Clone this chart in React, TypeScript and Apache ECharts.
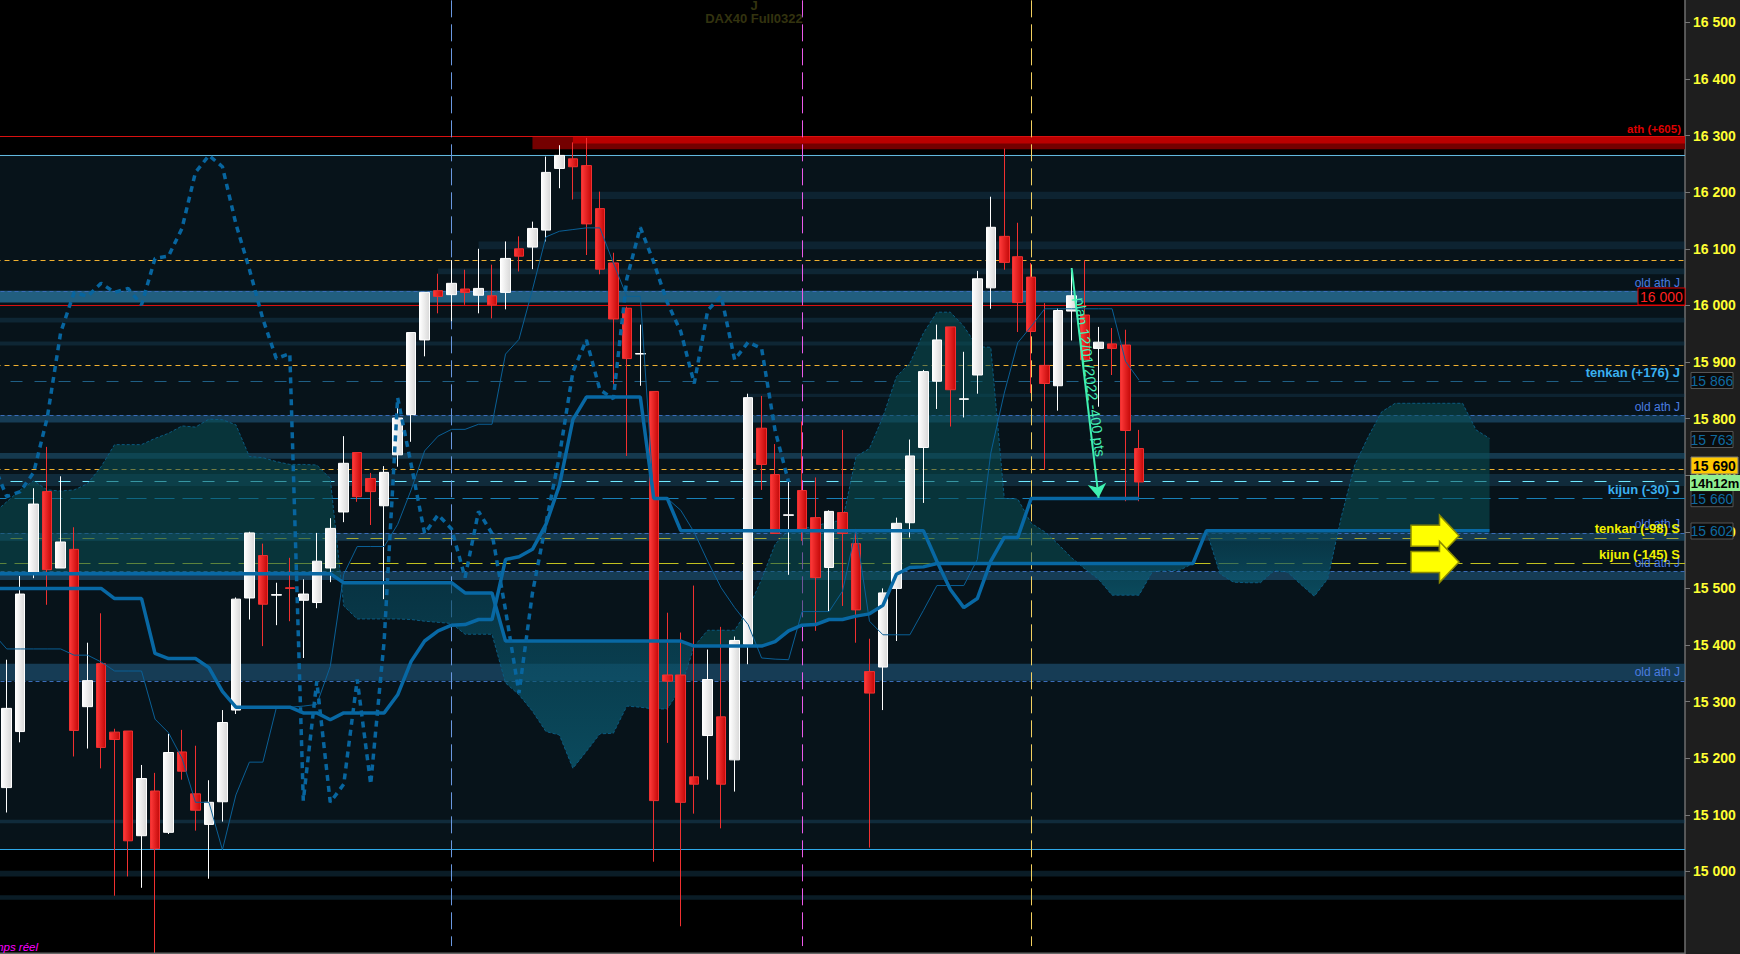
import React, { useEffect, useRef } from "react";
import * as echarts from "echarts";

const opens = [15148,15247,15528,15671,15536,15569,15291,15367,15246,15248,15063,15142,15069,15211,15137,15083,15123,15285,15483,15558,15488,15501,15479,15475,15536,15635,15740,15694,15646,15736,15807,15939,16026,16019,16029,16018,16017,16023,16100,16103,16133,16242,16259,16247,16171,16075,15995,15914,15848,15347,15347,15167,15240,15273,15197,15401,15783,15701,15629,15673,15625,15537,15634,15579,15353,15361,15500,15616,15749,15866,15962,15834,15877,16031,16122,16086,16050,15894,15858,15990,15983,15924,15932,15930,15747];
const closes = [15288,15490,15649,15533,15582,15249,15337,15219,15233,15054,15164,15040,15210,15177,15108,15122,15263,15481,15598,15472,15489,15500,15490,15548,15606,15721,15662,15671,15705,15801,15952,16023,16016,16039,16023,16030,16001,16083,16087,16136,16235,16265,16245,16144,16064,15976,15906,15915,15125,15336,15122,15154,15339,15154,15408,15837,15719,15597,15630,15605,15519,15636,15597,15462,15315,15492,15615,15734,15883,15939,15851,15835,16047,16138,16076,16005,15954,15862,15991,16017,15904,15935,15924,15779,15688];
const highs = [15374,15522,15677,15750,15698,15608,15404,15456,15252,15248,15188,15174,15243,15250,15222,15161,15285,15484,15600,15579,15510,15554,15516,15598,15624,15769,15740,15704,15716,15822,15952,16023,16056,16080,16063,16100,16072,16113,16122,16148,16263,16283,16288,16296,16201,16093,15998,15966,15848,15457,15422,15505,15392,15432,15415,15844,15840,15755,15688,15795,15696,15638,15780,15605,15411,15500,15625,15763,15886,15966,15962,15918,16061,16192,16277,16146,16075,16004,15995,16066,16080,15962,15960,15957,15780];
const lows = [15104,15228,15518,15471,15536,15203,15217,15182,14957,14991,14971,14852,15066,15162,15072,14987,15088,15278,15445,15398,15435,15442,15377,15465,15511,15617,15653,15612,15481,15715,15759,15910,15986,15972,16001,15986,15977,15993,16060,16064,16113,16207,16187,16089,16055,15860,15734,15858,15017,15227,14903,15102,15162,15076,15141,15366,15674,15597,15524,15584,15425,15459,15469,15404,15042,15285,15407,15590,15651,15817,15786,15802,15844,15994,16063,15953,15845,15710,15814,15938,15904,15821,15877,15654,15654];

// The first entry of each indicator lies just left of the visible window.
const kijunJ = [15500,15500,15500,15500,15500,15500,15500,15500,15500,15482,15482,15482,15385,15376,15376,15376,15360,15318,15290,15290,15290,15290,15290,15280,15280,15268,15280,15280,15280,15280,15312,15371,15407,15425,15435,15436,15445,15445,15551,15556,15569,15613,15682,15798,15838,15838,15838,15838,15838,15659,15659,15602,15602,15602,15602,15602,15602,15602,15602,15602,15602,15602,15602,15602,15602,15602,15602,15602,15602,15602,15548,15498,15466,15482,15548,15590,15590,15659,15659,15659,15659,15659,15659,15659,15659,15659];
const tenkanJ = [15420,15393,15393,15393,15393,15393,15382,15382,15370,15354,15354,15354,15269,15245,15200,15122,15122,15038,15135,15193,15193,15289,15290,15292,15295,15362,15525,15574,15574,15574,15613,15674,15743,15769,15781,15781,15790,15790,15914,15940,16028,16121,16131,16134,16137,16137,16075,16016,16016,15659,15659,15638,15599,15548,15501,15466,15436,15377,15375,15374,15459,15459,15459,15495,15604,15442,15418,15418,15418,15461,15505,15505,15505,15551,15739,15845,15934,15963,15994,15994,15994,15994,15994,15994,15901,15868];
const chikou = [15720,15662,15671,15705,15801,15952,16023,16016,16039,16023,16030,16001,16083,16087,16136,16235,16265,16245,16144,16064,15976,15906,15915,15125,15336,15122,15154,15339,15154,15408,15837,15719,15597,15630,15605,15519,15636,15597,15462,15315,15492,15615,15734,15883,15939,15851,15835,16047,16138,16076,16005,15954,15862,15991,16017,15904,15935,15924,15779,15688];
const senkouA = [15632,15653,15674,15690,15674,15672,15674,15685,15715,15754,15754,15754,15765,15774,15787,15785,15799,15798,15789,15733,15731,15724,15719,15719,15718,15694,15469,15446,15446,15446,15446,15445,15442,15440,15438,15419,15419,15419,15333,15312,15283,15247,15241,15182,15212,15243,15244,15292,15290,15287,15287,15324,15398,15426,15426,15426,15463,15516,15578,15602,15606,15609,15618,15619,15733,15747,15803,15874,15898,15951,15988,15988,15963,15927,15926,15659,15658,15615,15600,15578,15554,15534,15516,15488,15488,15488,15530,15531,15532,15544,15602,15526,15511,15510,15510,15531,15529,15507,15486,15517,15626,15718,15768,15812,15827,15827,15827,15827,15827,15827,15780,15765];
const senkouB = [15526,15526,15526,15526,15526,15526,15526,15526,15526,15526,15526,15526,15526,15526,15526,15526,15526,15526,15526,15526,15526,15526,15526,15526,15526,15526,15510,15510,15510,15510,15510,15510,15510,15510,15510,15492,15492,15492,15407,15407,15407,15407,15407,15407,15407,15407,15407,15407,15407,15407,15407,15407,15398,15398,15398,15398,15398,15398,15406,15425,15435,15436,15445,15445,15451,15455,15470,15525,15537,15538,15544,15544,15544,15544,15544,15544,15544,15544,15544,15544,15544,15544,15544,15544,15544,15544,15544,15544,15544,15544,15602,15602,15602,15602,15602,15602,15602,15602,15602,15602,15602,15602,15602,15602,15602,15602,15602,15602,15602,15602,15602,15602];

const categories = Array.from({ length: 126 }, (_, i) => String(i));
const tickValues = [15000,15100,15200,15300,15400,15500,15600,15700,15800,15900,16000,16100,16200,16300,16400,16500];

const zoneTops = [16298,16298,16201,16113,16065,16026,15978,15936,15844,15806,15739,15702,15598,15530,15367,15091,15001,14958];
const zoneBottoms = [16276,16286,16188,16099,16055,16005,15970,15929,15838,15793,15729,15681,15584,15515,15337,15085,14991,14950];
const zoneStarts = [40,43,43,36,33,0,0,0,56,0,0,0,0,0,0,0,0,0];
const zoneTints = ["#740000","#bb0000","rgba(30,80,110,.28)","rgba(30,80,110,.28)","rgba(30,80,110,.32)","rgba(45,130,175,.68)","rgba(30,80,110,.32)","rgba(30,80,110,.32)","rgba(30,80,110,.28)","rgba(35,95,135,.55)","rgba(35,95,130,.5)","rgba(30,80,110,.4)","rgba(35,95,130,.5)","rgba(35,95,135,.55)","rgba(35,95,135,.55)","rgba(30,80,110,.4)","rgba(30,80,110,.35)","rgba(30,80,110,.35)"];

const fineBlueLevels = [16025.5,15806,15598,15529.6,15336.6];
const orangeLevels = [16080,15894,15710];
const redLevels = [16298,16000];
const shadedFrom = 16266;
const shadedTo = 15039;
const tenkanDaily = 15866;
const lastPrice = 15690;
const kijunDaily = 15660;
const tenkanWeekly = 15589;
const kijunWeekly = 15544;
const sessionMarks = [34,60,77];
const sessionColors = ["#6a98e0","#ea5aea","#f2d060"];

const priceBoxes: [string, number, string][] = [
  ["15 866", 380.5, "#0f6aa0"],
  ["15 763", 439.5, "#0f6aa0"],
  ["15 660", 498.7, "#0f6aa0"],
  ["15 602", 531, "#0f6aa0"],
];
const levelNotes: [string, number, string, string][] = [
  ["old ath J", 283, "#4a7de0", "12px"],
  ["old ath J", 407, "#4a7de0", "12px"],
  ["old ath J", 524.3, "#4a7de0", "12px"],
  ["old ath J", 563.3, "#4a7de0", "12px"],
  ["old ath J", 672.3, "#4a7de0", "12px"],
  ["tenkan (+176) J", 372.7, "#3ab0f0", "bold 13px"],
  ["kijun (-30) J", 489.3, "#3ab0f0", "bold 13px"],
  ["tenkan (-98) S", 528.3, "#f0f000", "bold 13px"],
  ["kijun (-145) S", 554.3, "#f0f000", "bold 13px"],
];

const FONT = '"Liberation Sans", Arial, sans-serif';

export default function App() {
  const ref = useRef<HTMLDivElement | null>(null);
  useEffect(() => {
    document.body.style.margin = "0";
    document.body.style.background = "#000";
    const chart = echarts.init(ref.current!, undefined, { renderer: "svg" });

    const grad = (a: string, b: string) =>
      new echarts.graphic.LinearGradient(0, 0, 1, 0, [
        { offset: 0, color: a },
        { offset: 1, color: b },
      ]);

    const diffs = senkouA.map((a, i) => a - senkouB[i]);
    const signs: boolean[] = [];
    diffs.forEach((d, i) => signs.push(d === 0 ? (i > 0 ? signs[i - 1] : true) : d > 0));
    const runs: { s: number; e: number; bull: boolean }[] = [];
    signs.forEach((b, i) => {
      if (i === 0 || signs[i - 1] !== b) runs.push({ s: i, e: i, bull: b });
      else runs[runs.length - 1].e = i;
    });

    const renderCloud = (params: any, api: any) => {
      const run = runs.find((r) => r.s === params.dataIndex);
      if (!run) return null;
      const cross = (k: number) => {
        const a0 = api.coord([k, senkouA[k]]);
        const a1 = api.coord([k + 1, senkouA[k + 1]]);
        const d = diffs[k] - diffs[k + 1];
        const t = d === 0 ? 0 : diffs[k] / d;
        return [a0[0] + (a1[0] - a0[0]) * t, a0[1] + (a1[1] - a0[1]) * t];
      };
      const pts: number[][] = [];
      if (run.s > 0) pts.push(cross(run.s - 1));
      for (let k = run.s; k <= run.e; k++) pts.push(api.coord([k, senkouA[k]]));
      if (run.e < senkouA.length - 1) pts.push(cross(run.e));
      for (let k = run.e; k >= run.s; k--) pts.push(api.coord([k, senkouB[k]]));
      return {
        type: "polygon",
        shape: { points: pts },
        style: {
          fill: run.bull
            ? "rgba(9,80,86,.55)"
            : new echarts.graphic.LinearGradient(0, 0, 0, 1, [
                { offset: 0, color: "rgba(8,68,88,.65)" },
                { offset: 1, color: "rgba(12,98,122,.7)" },
              ]),
        },
      };
    };

    const level = (v: number, color: string, type: any, width = 1) => ({
      yAxis: v,
      lineStyle: { color, type, width },
    });

    const lineSeries = (name: string, data: number[], color: string, width: number, z: number, type: any = "solid") => ({
      name,
      type: "line",
      data,
      showSymbol: false,
      symbol: "none",
      z,
      silent: true,
      lineStyle: { color, width, type },
    });

    const graphics: any[] = [
      { type: "rect", z: -1, silent: true, shape: { x: 1685, y: 0, width: 55, height: 954 }, style: { fill: "#1e1e1e" } },
      { type: "rect", z: 50, silent: true, shape: { x: 0, y: 952.5, width: 1685, height: 1.5 }, style: { fill: "#666" } },
      { type: "text", z: 50, style: { x: 754, y: 5, text: "J", fill: "#33330f", font: `bold 13px ${FONT}`, align: "center", verticalAlign: "middle" } },
      { type: "text", z: 50, style: { x: 754, y: 18, text: "DAX40 Full0322", fill: "#33330f", font: `bold 13px ${FONT}`, align: "center", verticalAlign: "middle" } },
      { type: "text", z: 50, style: { x: 38, y: 947, text: "temps réel", fill: "#ff00ff", font: `italic 11.5px ${FONT}`, align: "right", verticalAlign: "middle" } },
      { type: "text", z: 50, style: { x: 1681, y: 129, text: "ath (+605)", fill: "#dd0000", font: `bold 11.5px ${FONT}`, align: "right", verticalAlign: "middle" } },
      { type: "rect", z: 50, shape: { x: 1638, y: 288, width: 47, height: 17 }, style: { fill: "#000", stroke: "#e00000", lineWidth: 1 } },
      { type: "text", z: 51, style: { x: 1661.5, y: 296.5, text: "16 000", fill: "#ff2020", font: `14px ${FONT}`, align: "center", verticalAlign: "middle" } },
      {
        type: "text",
        z: 52,
        x: 1090,
        y: 377,
        rotation: (-82.5 * Math.PI) / 180,
        style: { x: 0, y: 0, text: "plan 12/01/2022 -400 pts", fill: "#45f0b5", font: `14.5px ${FONT}`, align: "center", verticalAlign: "middle" },
      },
      ...[535.7, 562].map((c) => ({
        type: "polygon",
        z: 53,
        silent: true,
        shape: {
          points: [
            [1411, c - 10.5],
            [1439.5, c - 10.5],
            [1439.5, c - 20.5],
            [1459, c],
            [1439.5, c + 20.5],
            [1439.5, c + 10.5],
            [1411, c + 10.5],
          ],
        },
        style: { fill: "#ffff00", stroke: "#8a8a00", lineWidth: 1.5 },
      })),
      ...priceBoxes.flatMap(([t, y, c]) => [
        { type: "rect", z: 50, shape: { x: 1691, y: y - 8, width: 42, height: 16 }, style: { fill: "#0b0b0b", stroke: "#555", lineWidth: 1 } },
        { type: "text", z: 51, style: { x: 1712, y, text: t, fill: c, font: `14px ${FONT}`, align: "center", verticalAlign: "middle" } },
      ]),
      { type: "rect", z: 50, shape: { x: 1691, y: 457, width: 47, height: 17 }, style: { fill: "#ffc800", stroke: "#777", lineWidth: 1 } },
      { type: "text", z: 51, style: { x: 1714.5, y: 465.5, text: "15 690", fill: "#000", font: `bold 14px ${FONT}`, align: "center", verticalAlign: "middle" } },
      { type: "rect", z: 50, shape: { x: 1690, y: 475, width: 50, height: 16 }, style: { fill: "#90ee90" } },
      { type: "text", z: 51, style: { x: 1715, y: 483, text: "14h12m", fill: "#000", font: `bold 13px ${FONT}`, align: "center", verticalAlign: "middle" } },
      ...levelNotes.map(([t, y, c, f]) => ({
        type: "text",
        z: 50,
        style: { x: 1680, y, text: t, fill: c, font: `${f} ${FONT}`, align: "right", verticalAlign: "middle" },
      })),
    ];

    chart.setOption({
      animation: false,
      backgroundColor: "#000",
      grid: { left: -13.48, top: 0, width: 1698.48, height: 954, containLabel: false, outerBoundsMode: "none" },
      xAxis: {
        type: "category",
        data: categories,
        boundaryGap: true,
        axisLine: { show: false },
        axisTick: { show: false },
        axisLabel: { show: false },
        splitLine: { show: false },
      },
      yAxis: {
        type: "value",
        position: "right",
        min: 14854,
        max: 16539.6,
        splitLine: { show: false },
        axisLine: { show: true, lineStyle: { color: "#6e6e6e", width: 1.5 } },
        axisTick: { show: true, length: 5, lineStyle: { color: "#777" }, customValues: tickValues },
        axisLabel: {
          show: true,
          customValues: tickValues,
          color: "#ffff33",
          fontFamily: FONT,
          fontWeight: "bold",
          fontSize: 14,
          margin: 8,
          formatter: (v: number) => `${Math.floor(v / 1000)} ${String(v % 1000).padStart(3, "0")}`,
        },
      },
      graphic: { elements: graphics },
      series: [
        {
          name: "background",
          type: "line",
          data: [null],
          z: 0,
          silent: true,
          markArea: {
            silent: true,
            z: 0,
            data: [[{ yAxis: shadedFrom, itemStyle: { color: "#07131a" } }, { yAxis: shadedTo }]],
          },
        },
        {
          name: "zones",
          type: "line",
          data: [null],
          z: 1,
          silent: true,
          markArea: {
            silent: true,
            z: 1,
            data: zoneTops.map((t, i) => [
              zoneStarts[i] > 0
                ? { xAxis: zoneStarts[i], yAxis: t, itemStyle: { color: zoneTints[i] } }
                : { yAxis: t, itemStyle: { color: zoneTints[i] } },
              zoneStarts[i] > 0 ? { xAxis: categories.length - 1, x: 1685, yAxis: zoneBottoms[i] } : { yAxis: zoneBottoms[i] },
            ]),
          },
        },
        {
          name: "cloud",
          type: "custom",
          z: 2,
          silent: true,
          renderItem: renderCloud,
          encode: { x: 0, y: [1, 2] },
          data: senkouA.map((a, i) => [i, a, senkouB[i]]),
        },
        lineSeries("senkou A", senkouA, "#0a5a80", 1, 2, [3, 2]),
        {
          name: "levels",
          type: "line",
          data: [null],
          z: 2,
          silent: true,
          markLine: {
            silent: true,
            z: 2,
            symbol: "none",
            label: { show: false },
            data: [
              ...fineBlueLevels.map((v) => level(v, "#3a6cb8", [4, 3])),
              ...orangeLevels.map((v) => level(v, "#f0b030", [5, 4])),
              ...redLevels.map((v) => level(v, "#d81010", "solid")),
              level(shadedFrom, "#62b8de", "solid"),
              level(shadedTo, "#2ea8e8", "solid"),
              level(tenkanDaily, "#1f5f85", [12, 12]),
              level(lastPrice, "#70eaff", [12, 12]),
              level(kijunDaily, "#1880b8", [20, 8]),
              level(tenkanWeekly, "#a8a830", [12, 12]),
              level(kijunWeekly, "#c0c020", [20, 8]),
              ...sessionMarks.map((x, i) => [
                { xAxis: x, yAxis: 16539, lineStyle: { color: sessionColors[i], type: [17, 7], width: 1 } },
                { xAxis: x, yAxis: 14868 },
              ]),
            ],
          },
        },
        {
          name: "DAX40",
          type: "candlestick",
          z: 3,
          silent: true,
          barWidth: 10,
          data: [["-", "-", "-", "-"], ...opens.map((o, i) => [o, closes[i], lows[i], highs[i]])],
          itemStyle: {
            color: grad("#ffffff", "#d8d8d8"),
            color0: grad("#ff3a3a", "#c40808"),
            borderColor: "#ffffff",
            borderColor0: "#f03030",
            borderWidth: 1,
          },
        },
        lineSeries("tenkan J", tenkanJ, "#0a5f95", 1, 4),
        lineSeries("kijun J", kijunJ, "#0868a4", 3.5, 4),
        lineSeries("senkou B", senkouB, "#0868a4", 3.5, 4),
        lineSeries("chikou", chikou, "#07659f", 3.5, 5, [6, 5]),
        {
          name: "plan",
          type: "line",
          data: [null],
          z: 6,
          silent: true,
          markLine: {
            silent: true,
            z: 6,
            symbol: ["none", "arrow"],
            symbolSize: 14,
            label: { show: false },
            data: [
              [
                { xAxis: 80, yAxis: 16066, lineStyle: { color: "#3ff0b0", width: 2, type: "solid" } },
                { xAxis: 82, yAxis: 15660 },
              ],
            ],
          },
        },
      ],
    });
    return () => chart.dispose();
  }, []);
  return <div ref={ref} style={{ position: "fixed", left: 0, top: 0, width: 1740, height: 954 }} />;
}
